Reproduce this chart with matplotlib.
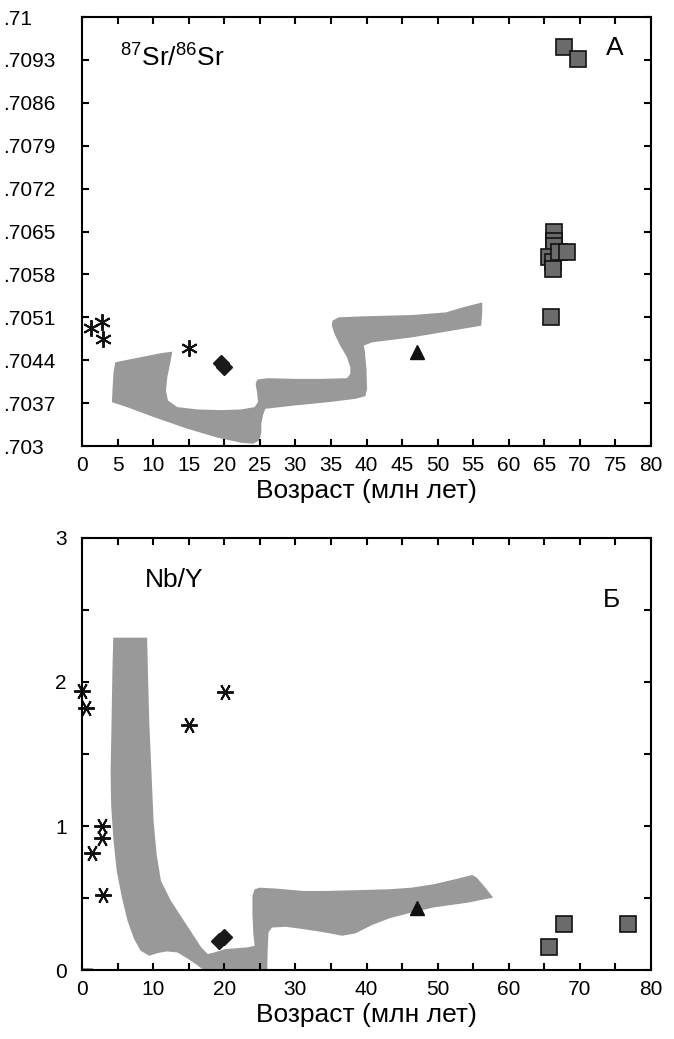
"""Sr isotope and Nb/Y vs age, two stacked panels."""

import matplotlib

matplotlib.use("Agg")
import matplotlib.pyplot as plt
from matplotlib.patches import Polygon
from matplotlib.ticker import FixedLocator, MultipleLocator

plt.rcParams["font.family"] = ["Liberation Sans", "DejaVu Sans"]
plt.rcParams["mathtext.fontset"] = "custom"
plt.rcParams["mathtext.rm"] = "Liberation Sans"

BAND_COLOR = "#999999"
SQUARE_COLOR = "#6b6b6b"

# --- panel A: 87Sr/86Sr ---
sr_ticks = [0.703, 0.7037, 0.7044, 0.7051, 0.7058, 0.7065, 0.7072, 0.7079, 0.7086, 0.7093, 0.71]
sr_tick_labels = [".703", ".7037", ".7044", ".7051", ".7058", ".7065", ".7072", ".7079", ".7086", ".7093", ".71"]

sr_square_age = [67.7, 69.8, 66.4, 66.4, 66.3, 65.6, 66.2, 66.2, 67.0, 68.2, 65.9]
sr_square_val = [0.70951, 0.70932, 0.70649, 0.70635, 0.70627, 0.70608, 0.70600, 0.70589, 0.70616, 0.70616, 0.70510]
sr_star_age = [1.3, 2.8, 3.0, 15.1]
sr_star_val = [0.70492, 0.70503, 0.70475, 0.70460]
sr_diamond_age = [19.5, 20.0]
sr_diamond_val = [0.70435, 0.70429]
sr_triangle_age = [47.1]
sr_triangle_val = [0.70454]

sr_band_age = [4.67, 4.43, 4.29, 4.20, 6.32, 10.10, 14.82, 19.07, 22.37, 24.03, 24.97, 25.21,
               25.21, 25.44, 25.77, 29.93, 34.65, 38.43, 39.84, 40.08, 39.99, 39.75, 39.61,
               40.79, 46.45, 51.18, 56.13, 56.27, 56.27, 53.54, 51.18, 46.45, 39.37, 36.07,
               35.22, 35.12, 35.50, 36.30, 37.25, 37.72, 37.72, 37.25, 33.71, 29.93, 26.15,
               24.64, 24.41, 24.64, 24.74, 24.26, 22.37, 19.54, 16.24, 13.40, 12.08, 11.80,
               11.99, 12.37, 12.70, 11.04, 7.74]
sr_band_val = [0.704367, 0.704205, 0.703933, 0.703716, 0.703635, 0.703472, 0.703282, 0.703136,
               0.703054, 0.703038, 0.703092, 0.703228, 0.703364, 0.703499, 0.703608, 0.703662,
               0.703716, 0.703770, 0.703814, 0.703933, 0.704259, 0.704557, 0.704639, 0.704693,
               0.704774, 0.704867, 0.704964, 0.705181, 0.705344, 0.705263, 0.705181, 0.705138,
               0.705116, 0.705100, 0.705046, 0.704964, 0.704829, 0.704639, 0.704449, 0.704286,
               0.704178, 0.704107, 0.704096, 0.704096, 0.704107, 0.704085, 0.704015, 0.703852,
               0.703716, 0.703635, 0.703597, 0.703586, 0.703597, 0.703635, 0.703744, 0.703906,
               0.704123, 0.704340, 0.704541, 0.704514, 0.704438]

# --- panel Б: Nb/Y ---
nb_star_age = [0.0, 0.6, 20.1, 15.06, 2.8, 2.8, 1.4, 2.9]
nb_star_val = [1.94, 1.82, 1.93, 1.70, 1.00, 0.92, 0.81, 0.52]
nb_diamond_age = [19.3, 20.0]
nb_diamond_val = [0.20, 0.23]
nb_triangle_age = [47.1]
nb_triangle_val = [0.43]
nb_square_age = [65.6, 67.7, 76.7]
nb_square_val = [0.157, 0.32, 0.32]

nb_band_age = [4.39, 4.27, 4.15, 4.02, 4.09, 4.39, 4.88, 5.61, 6.40, 7.32, 8.23, 9.45, 10.67,
               11.89, 13.41, 14.94, 16.16, 17.07, 26.04, 26.10, 26.22, 26.71, 28.66, 31.10,
               34.15, 36.59, 38.41, 40.85, 43.29, 46.34, 49.39, 54.27, 57.80, 56.71, 55.49,
               54.88, 52.44, 49.39, 46.34, 43.29, 38.41, 34.15, 31.10, 27.44, 25.00, 24.27,
               23.96, 23.96, 24.09, 24.27, 23.17, 20.12, 18.60, 17.68, 16.77, 15.55, 14.02,
               12.50, 11.10, 10.49, 10.06, 9.76, 9.45, 9.27, 9.15]
nb_band_val = [2.308, 2.072, 1.726, 1.380, 1.149, 0.919, 0.688, 0.503, 0.342, 0.215, 0.134,
               0.099, 0.118, 0.129, 0.122, 0.076, 0.035, 0.0, 0.0, 0.134, 0.261, 0.295, 0.300,
               0.284, 0.261, 0.238, 0.254, 0.314, 0.360, 0.399, 0.434, 0.468, 0.503, 0.572,
               0.642, 0.660, 0.630, 0.595, 0.572, 0.561, 0.554, 0.549, 0.549, 0.565, 0.572,
               0.561, 0.515, 0.388, 0.249, 0.168, 0.157, 0.145, 0.122, 0.111, 0.157, 0.249,
               0.365, 0.480, 0.619, 0.803, 1.034, 1.380, 1.726, 2.072, 2.308]
# small grey sliver in the bottom-left corner
nb_corner_age = [0.0, 1.6, 1.6, 0.0]
nb_corner_val = [0.0, 0.0, 0.014, 0.014]


def style_axes(ax):
    for spine in ax.spines.values():
        spine.set_linewidth(1.5)
    ax.tick_params(which="both", direction="in", top=True, right=True,
                   length=5, width=1.5, labelsize=15)


def add_markers(ax, sq_x, sq_y, st_x, st_y, di_x, di_y, tr_x, tr_y, star):
    ax.plot(sq_x, sq_y, "s", ms=12, mfc=SQUARE_COLOR, mec="#111111", mew=1.2, ls="none")
    ax.plot(st_x, st_y, marker=star, ms=12, color="#111111", mew=1.4, ls="none", clip_on=False)
    ax.plot(di_x, di_y, "D", ms=8, color="#1a1a1a", ls="none")
    ax.plot(tr_x, tr_y, "^", ms=10, color="#111111", ls="none")


fig = plt.figure(figsize=(6.74, 10.39), dpi=100)

# panel A
ax1 = fig.add_axes([0.1217, 0.5707, 0.8442, 0.4129])
ax1.add_patch(Polygon(list(zip(sr_band_age, sr_band_val)), closed=True,
                      facecolor=BAND_COLOR, edgecolor="none"))
add_markers(ax1, sr_square_age, sr_square_val, sr_star_age, sr_star_val,
            sr_diamond_age, sr_diamond_val, sr_triangle_age, sr_triangle_val, (6, 2, 0))
ax1.set_xlim(0, 80)
ax1.set_ylim(0.703, 0.71)
ax1.xaxis.set_major_locator(MultipleLocator(5))
ax1.yaxis.set_major_locator(FixedLocator(sr_ticks))
ax1.set_yticklabels(sr_tick_labels)
style_axes(ax1)
ax1.tick_params(axis="y", pad=57)
for lab in ax1.get_yticklabels():
    lab.set_horizontalalignment("left")
ax1.tick_params(axis="x", pad=7)
ax1.set_xlabel("Возраст (млн лет)", fontsize=19, labelpad=3)
ax1.text(5.3, 0.70935, r"$^{87}$Sr/$^{86}$Sr", fontsize=19, va="center", ha="left")
ax1.text(74.9, 0.70949, "А", fontsize=19, va="center", ha="center")

# panel Б
ax2 = fig.add_axes([0.1217, 0.0664, 0.8442, 0.4158])
ax2.add_patch(Polygon(list(zip(nb_band_age, nb_band_val)), closed=True,
                      facecolor=BAND_COLOR, edgecolor="none"))
ax2.add_patch(Polygon(list(zip(nb_corner_age, nb_corner_val)), closed=True,
                      facecolor=BAND_COLOR, edgecolor="none"))
add_markers(ax2, nb_square_age, nb_square_val, nb_star_age, nb_star_val,
            nb_diamond_age, nb_diamond_val, nb_triangle_age, nb_triangle_val, (6, 2, 90))
ax2.set_xlim(0, 80)
ax2.set_ylim(0, 3)
ax2.xaxis.set_major_locator(MultipleLocator(10))
ax2.xaxis.set_minor_locator(MultipleLocator(5))
ax2.yaxis.set_major_locator(MultipleLocator(1))
ax2.yaxis.set_minor_locator(MultipleLocator(0.5))
style_axes(ax2)
ax2.tick_params(axis="y", pad=11)
ax2.tick_params(axis="x", pad=7)
ax2.set_xlabel("Возраст (млн лет)", fontsize=19, labelpad=3)
ax2.text(8.9, 2.71, "Nb/Y", fontsize=19, va="center", ha="left")
ax2.text(74.5, 2.57, "Б", fontsize=19, va="center", ha="center")

fig.savefig("out.png", dpi=100)
